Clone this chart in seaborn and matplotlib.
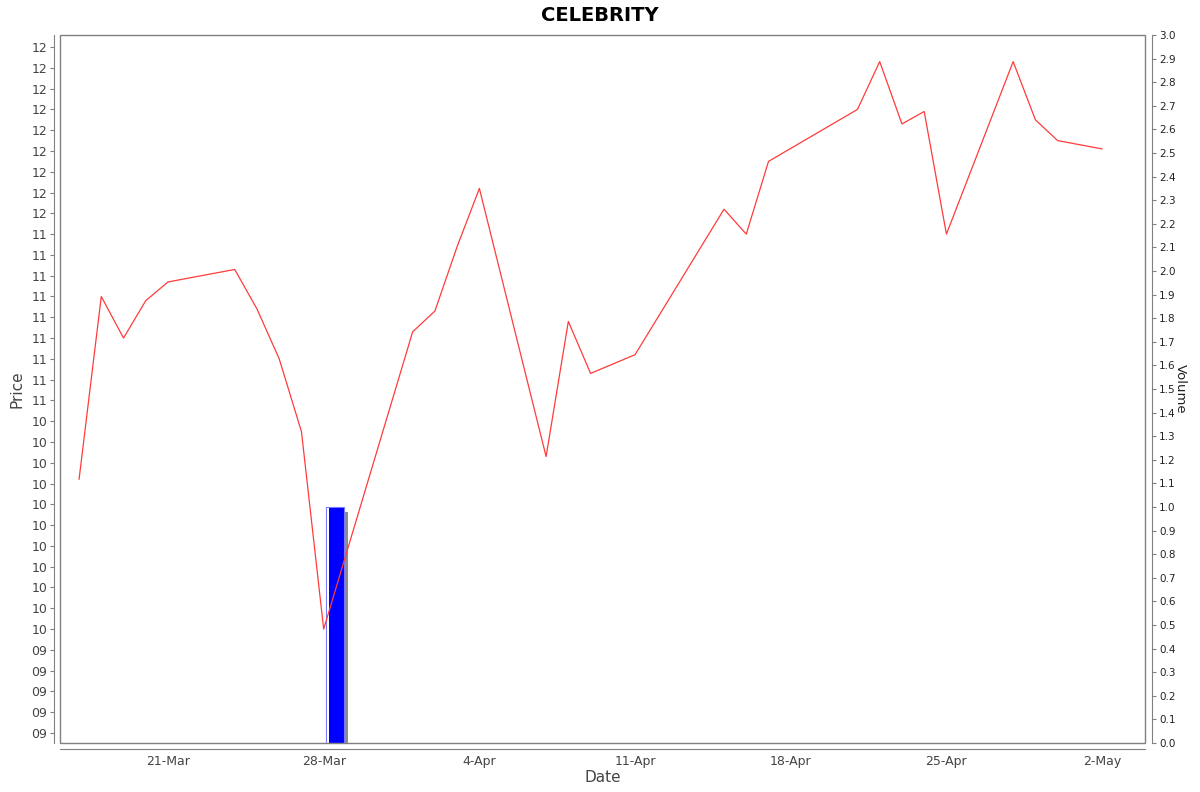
"""CELEBRITY price and volume chart."""

import matplotlib
matplotlib.use("Agg")
import matplotlib.pyplot as plt
import matplotlib.dates as mdates
from matplotlib.patches import Rectangle
from matplotlib.ticker import FixedLocator, FuncFormatter
import numpy as np
import pandas as pd
import seaborn as sns

# Data
dates = [
    "2025-03-17", "2025-03-18", "2025-03-19", "2025-03-20", "2025-03-21",
    "2025-03-24", "2025-03-25", "2025-03-26", "2025-03-27", "2025-03-28",
    "2025-04-01", "2025-04-02", "2025-04-03", "2025-04-04", "2025-04-07",
    "2025-04-08", "2025-04-09", "2025-04-11", "2025-04-15", "2025-04-16",
    "2025-04-17", "2025-04-21", "2025-04-22", "2025-04-23", "2025-04-24",
    "2025-04-25", "2025-04-28", "2025-04-29", "2025-04-30", "2025-05-02",
]
prices = [
    10.22, 11.10, 10.90, 11.08, 11.17,
    11.23, 11.04, 10.80, 10.45, 9.50,
    10.93, 11.03, 11.34, 11.62, 10.33,
    10.98, 10.73, 10.82, 11.52, 11.40,
    11.75, 12.00, 12.23, 11.93, 11.99,
    11.40, 12.23, 11.95, 11.85, 11.81,
]
volume_dates = ["2025-03-28"]
volumes = [1.0]

price_ticks = np.round(np.arange(90, 124) / 10, 1)
volume_ticks = np.round(np.arange(0, 31) / 10, 1)
date_ticks = ["2025-03-21", "2025-03-28", "2025-04-04", "2025-04-11",
              "2025-04-18", "2025-04-25", "2025-05-02"]

df = pd.DataFrame({"Date": pd.to_datetime(dates), "Price": prices})
vol = pd.DataFrame({"Date": pd.to_datetime(volume_dates), "Volume": volumes})

sns.set_style("white")
plt.rcParams["font.family"] = ["DejaVu Sans"]

AXIS_GREY = "#808080"
TEXT_GREY = "#444444"

fig = plt.figure(figsize=(12, 7.92), dpi=100)
ax_vol = fig.add_axes([0.05, 0.0619, 0.9042, 0.8939])
ax = ax_vol.twinx()

# Volume bars (JFreeChart style: bar inside the day, shadow, highlight edge)
px_day = 22.24
d0 = mdates.date2num(vol["Date"])
ax_vol.bar(d0 + 0.09 + 4 / px_day, vol["Volume"] - 0.02, width=0.81,
           align="edge", color="#8c8c8c", linewidth=0, zorder=1)
ax_vol.bar(d0 + 0.09, vol["Volume"], width=0.81, align="edge",
           color="#0000ff", edgecolor="#7a7aff", linewidth=0.8, zorder=2)
ax_vol.bar(d0 + 0.09 + 1 / px_day, vol["Volume"] - 0.004, width=2 / px_day,
           align="edge", color="white", linewidth=0, zorder=3)

# Price line
sns.lineplot(data=df, x="Date", y="Price", ax=ax, color="#ff3b3b",
             linewidth=0.9, zorder=5)

# Make price axis the left one, volume the right one
ax.yaxis.tick_left()
ax.yaxis.set_label_position("left")
ax_vol.yaxis.tick_right()
ax_vol.yaxis.set_label_position("right")
ax.set_zorder(ax_vol.get_zorder() + 1)
ax.patch.set_visible(False)

xmin = mdates.date2num(pd.Timestamp("2025-03-21")) - 108 / px_day
xmax = mdates.date2num(pd.Timestamp("2025-03-21")) + 977 / px_day
ax.set_xlim(xmin, xmax)
ax_vol.set_xlim(xmin, xmax)
ax.set_ylim(8.952, 12.358)
ax_vol.set_ylim(0, 3.0)

ax.yaxis.set_major_locator(FixedLocator(price_ticks))
ax.yaxis.set_major_formatter(FuncFormatter(lambda v, p: f"{round(v):02d}"))
ax_vol.yaxis.set_major_locator(FixedLocator(volume_ticks))
ax_vol.yaxis.set_major_formatter(FuncFormatter(lambda v, p: f"{v:.1f}"))
ax_vol.xaxis.set_major_locator(FixedLocator(mdates.date2num(pd.to_datetime(date_ticks))))
ax_vol.xaxis.set_major_formatter(mdates.DateFormatter("%-d-%b"))
ax.tick_params(axis="x", which="both", bottom=False, top=False,
               labelbottom=False, labeltop=False)

# Spines: offset axis lines plus a plot outline
for a in (ax, ax_vol):
    for s in a.spines.values():
        s.set_visible(False)
ax.spines["left"].set_visible(True)
ax.spines["left"].set_position(("outward", 4))
ax.spines["left"].set_color(AXIS_GREY)
ax_vol.spines["bottom"].set_visible(True)
ax_vol.spines["bottom"].set_position(("outward", 4))
ax_vol.spines["bottom"].set_color(AXIS_GREY)
ax_vol.spines["right"].set_visible(True)
ax_vol.spines["right"].set_position(("outward", 5))
ax_vol.spines["right"].set_color(AXIS_GREY)
ax_vol.add_patch(Rectangle((0, 0), 1, 1, transform=ax_vol.transAxes,
                           fill=False, edgecolor=AXIS_GREY, linewidth=1.0,
                           zorder=10, clip_on=False))

ax.tick_params(axis="y", direction="out", length=3, width=0.8,
               color=AXIS_GREY, labelsize=9, labelcolor=TEXT_GREY, pad=2)
ax_vol.tick_params(axis="y", direction="out", length=3, width=0.8,
                   color=AXIS_GREY, labelsize=7.5, labelcolor="#222222", pad=2)
ax_vol.tick_params(axis="x", direction="out", length=3, width=0.8,
                   color=AXIS_GREY, labelsize=9, labelcolor=TEXT_GREY, pad=2)

ax.set_xlabel("")
ax.set_ylabel("Price", fontsize=11, color=TEXT_GREY, labelpad=5)
ax_vol.set_xlabel("Date", fontsize=11, color=TEXT_GREY, labelpad=1)
ax_vol.set_ylabel("Volume", fontsize=9.5, color="#222222", rotation=-90,
                  labelpad=8)

fig.suptitle("CELEBRITY", x=0.5, y=0.993, fontsize=14, fontweight="bold",
             color="black")

fig.savefig("out.png", dpi=100)
